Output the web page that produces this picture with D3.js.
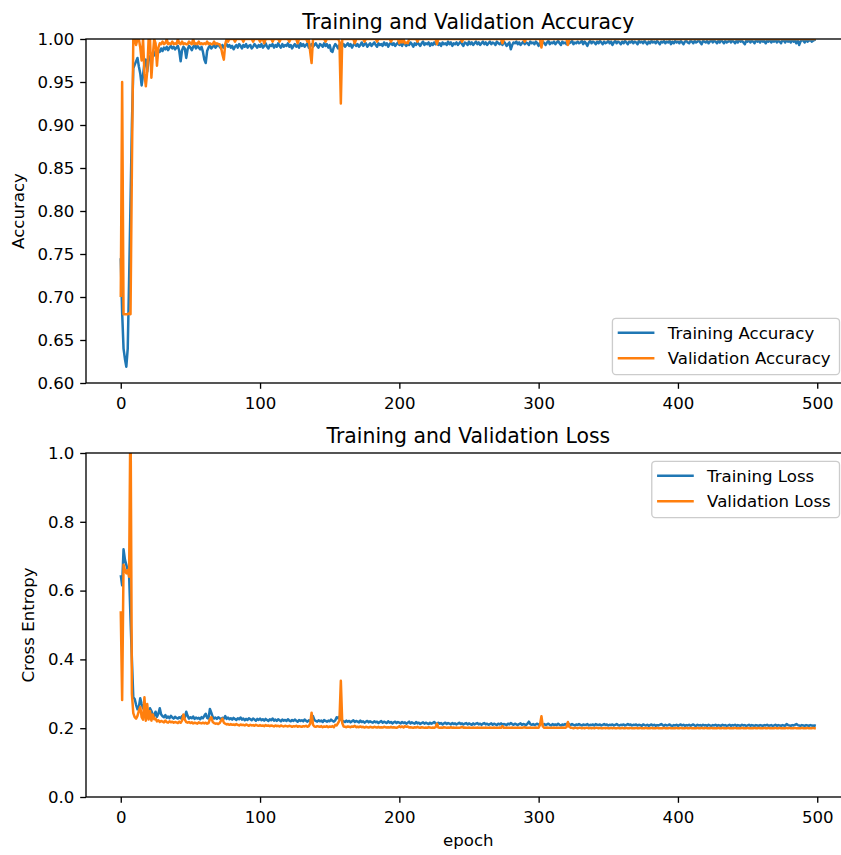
<!DOCTYPE html>
<html><head><meta charset="utf-8">
<script src="https://cdn.jsdelivr.net/npm/d3@7"></script>
<style>body{margin:0;background:#fff}svg text{font-family:"DejaVu Sans",sans-serif}</style>
</head><body><svg id="c" width="841" height="855"></svg>
<script>
// Training accuracy per epoch (0..499)
const trainAcc = [
.745,.682,.640,.628,.619,.640,.720,.810,.900,.966,.970,.974,.978,.968,.960,.946,.958,.972,.976,.962,
.975,.980,.978,.984,.981,.986,.983,.987,.985,.989,.986,.990,.988,.991,.987,.990,.992,.989,.991,.988,
.990,.992,.986,.974,.987,.991,.989,.978,.988,.992,.990,.987,.991,.993,.989,.992,.990,.988,.991,.985,
.976,.972,.986,.990,.992,.989,.991,.993,.990,.992,.994,.991,.989,.993,.990,.992,.994,.991,.993,.990,
.992,.988,.991,.993,.990,.994,.992,.989,.993,.991,.994,.990,.992,.993,.989,.991,.994,.992,.990,.993,
.991,.994,.990,.992,.995,.991,.989,.993,.992,.994,.990,.993,.991,.995,.992,.990,.994,.991,.993,.992,
.995,.991,.993,.989,.992,.994,.991,.993,.990,.995,.992,.994,.991,.993,.995,.990,.992,.994,.991,.993,
.995,.992,.990,.994,.993,.991,.995,.992,.994,.990,.993,.986,.985,.991,.994,.992,.989,.993,.995,.992,
.994,.991,.993,.995,.992,.994,.990,.993,.995,.992,.994,.991,.993,.996,.992,.994,.995,.991,.993,.995,
.992,.994,.996,.993,.991,.995,.993,.994,.992,.996,.993,.995,.991,.994,.996,.993,.995,.992,.994,.996,
.993,.995,.992,.996,.994,.992,.995,.993,.996,.994,.991,.995,.993,.996,.994,.992,.995,.997,.993,.995,
.994,.996,.992,.995,.993,.996,.994,.997,.993,.995,.992,.996,.994,.995,.993,.997,.994,.996,.992,.995,
.994,.996,.993,.995,.997,.994,.992,.996,.995,.993,.997,.994,.996,.993,.995,.997,.994,.996,.993,.995,
.997,.994,.996,.993,.995,.997,.994,.996,.995,.993,.997,.995,.994,.996,.993,.997,.995,.992,.994,.996,
.988,.993,.996,.995,.997,.994,.996,.993,.995,.997,.994,.996,.995,.993,.997,.995,.996,.994,.997,.995,
.992,.996,.994,.997,.995,.993,.996,.998,.994,.996,.995,.997,.994,.996,.998,.995,.993,.997,.995,.996,
.994,.997,.995,.996,.998,.994,.996,.995,.997,.995,.996,.998,.994,.997,.995,.992,.996,.998,.995,.997,
.996,.994,.997,.995,.998,.996,.994,.997,.995,.996,.998,.995,.997,.993,.996,.998,.995,.997,.996,.994,
.997,.995,.998,.996,.994,.997,.996,.998,.995,.997,.996,.994,.998,.996,.997,.995,.998,.996,.994,.997,
.995,.998,.996,.997,.995,.998,.996,.994,.997,.996,.998,.995,.997,.996,.998,.994,.997,.995,.998,.996,
.997,.995,.998,.996,.994,.997,.998,.996,.995,.998,.997,.995,.998,.996,.997,.999,.996,.994,.998,.997,
.996,.998,.995,.997,.999,.996,.998,.997,.995,.998,.996,.999,.997,.995,.998,.996,.997,.999,.996,.998,
.997,.995,.998,.996,.999,.997,.998,.996,.994,.998,.997,.999,.996,.998,.997,.995,.999,.997,.998,.996,
.999,.997,.998,.995,.998,.997,.999,.996,.998,.997,.999,.996,.998,.997,.995,.999,.998,.996,.999,.997,
.998,.996,.999,.997,.998,.995,.999,.993,.997,.999,.998,.996,.999,.997,.998,.999,.997,.998,.999,.999
];
// Validation accuracy per epoch
const valAcc = [
.700,.950,.680,.680,.680,.680,.681,.680,.850,1,1,.993,1,1,.990,.975,1,.960,.945,.962,
1,1,.955,.980,1,.995,.969,.990,.995,.994,.997,.994,.995,1,.994,.995,.994,.997,.994,.995,
.994,1,.995,.994,.997,.994,.995,.994,.994,.997,.995,.994,1,.994,.995,.994,.997,.994,.995,.994,
.995,.994,.997,.994,.995,.994,.994,.997,.994,.995,.994,.994,.990,.982,.976,.994,1,.997,1,1,
1,1,.997,1,1,1,1,1,.997,1,1,1,1,1,1,.997,1,1,1,1,
.997,1,1,.995,1,1,1,1,1,.997,1,1,1,1,.997,1,1,1,1,1,
1,.997,1,1,1,1,1,.995,1,1,1,1,1,1,.997,1,.985,.972,1,1,
1,1,1,1,1,1,1,.997,1,1,1,1,1,1,1,1,1,.997,.925,1,
1,1,1,1,1,1,1,1,.995,1,1,1,1,1,1,.997,1,1,1,1,
1,1,1,1,.997,1,1,1,1,1,1,1,1,1,.997,1,1,1,1,1,
.995,1,.996,1,.995,.996,.995,1,1,1,1,1,1,.997,1,1,1,1,1,1,
1,1,1,1,1,1,1,.994,1,1,1,1,1,1,1,1,1,1,1,1,
1,1,1,1,1,.997,1,1,1,1,1,1,1,1,1,1,1,1,1,1,
1,1,1,1,1,1,1,1,1,1,1,1,1,1,.995,1,1,1,1,1,
1,1,1,1,1,1,1,1,1,1,.997,1,1,1,1,1,1,1,1,1,
1,1,.990,1,1,1,1,1,1,1,1,1,1,1,1,1,1,1,1,1,
1,.993,1,1,1,1,1,1,1,1,1,1,1,1,1,1,1,1,1,1,
1,1,1,1,1,1,1,1,1,1,1,1,1,1,1,1,1,1,1,1,
1,1,1,1,1,1,1,1,1,1,1,1,1,1,1,1,1,1,1,1,
1,1,1,1,1,1,1,1,1,1,1,1,1,1,1,1,1,1,1,1,
1,1,1,1,1,1,1,1,1,1,1,1,1,1,1,1,1,1,1,1,
1,1,1,1,1,1,1,1,1,1,1,1,1,1,1,1,1,1,1,1,
1,1,1,1,1,1,1,1,1,1,1,1,1,1,1,1,1,1,1,1,
1,1,1,1,1,1,1,1,1,1,1,1,1,1,1,1,1,1,1,1,
1,1,1,1,1,1,1,1,1,1,1,1,1,1,1,1,1,1,1,1
];
// Training loss per epoch
const trainLoss = [
.645,.615,.720,.690,.675,.660,.645,.520,.400,.290,.285,.268,.255,.262,.287,.270,.258,.262,.248,.233,
.245,.258,.250,.240,.236,.248,.233,.242,.258,.240,.235,.232,.238,.230,.234,.229,.236,.231,.228,.233,
.230,.228,.232,.229,.235,.237,.231,.248,.236,.228,.232,.229,.234,.227,.231,.228,.230,.226,.232,.229,
.236,.242,.230,.228,.256,.245,.233,.228,.231,.227,.232,.229,.226,.230,.228,.235,.227,.231,.226,.229,
.225,.230,.227,.224,.229,.226,.231,.225,.228,.223,.227,.224,.229,.226,.223,.228,.225,.222,.227,.224,
.228,.223,.226,.222,.227,.224,.221,.226,.223,.228,.222,.225,.221,.226,.223,.220,.225,.222,.224,.221,
.226,.222,.220,.224,.221,.225,.222,.219,.224,.221,.223,.220,.225,.222,.219,.223,.221,.228,.235,.224,
.221,.219,.223,.220,.222,.218,.224,.221,.219,.222,.220,.225,.221,.219,.223,.232,.229,.234,.226,.222,
.220,.218,.222,.219,.221,.217,.220,.223,.218,.221,.219,.217,.222,.218,.220,.216,.219,.221,.217,.220,
.218,.216,.220,.217,.219,.215,.218,.221,.216,.219,.217,.215,.220,.216,.218,.214,.217,.219,.215,.218,
.216,.214,.218,.215,.217,.213,.216,.219,.214,.217,.215,.213,.218,.214,.216,.212,.215,.217,.213,.216,
.214,.212,.216,.213,.215,.218,.214,.212,.216,.213,.215,.211,.214,.216,.212,.215,.213,.211,.215,.212,
.214,.211,.213,.216,.212,.214,.211,.213,.215,.211,.214,.212,.210,.214,.211,.213,.215,.211,.213,.210,
.213,.215,.211,.213,.210,.212,.214,.210,.213,.211,.209,.213,.211,.214,.210,.212,.211,.209,.213,.211,
.215,.212,.210,.213,.211,.209,.212,.214,.210,.212,.211,.209,.213,.219,.212,.210,.212,.209,.211,.213,
.210,.212,.214,.210,.212,.209,.211,.213,.210,.208,.212,.210,.211,.209,.213,.210,.208,.211,.209,.212,
.210,.215,.211,.209,.212,.210,.208,.211,.209,.212,.210,.208,.211,.209,.210,.212,.208,.210,.209,.211,
.208,.212,.210,.209,.211,.208,.210,.212,.209,.211,.208,.210,.209,.211,.208,.210,.212,.209,.208,.210,
.209,.211,.208,.210,.212,.209,.211,.208,.210,.209,.211,.208,.210,.209,.207,.211,.209,.208,.210,.207,
.209,.211,.208,.210,.207,.209,.208,.210,.212,.209,.207,.210,.208,.209,.211,.208,.207,.209,.208,.210,
.207,.209,.211,.208,.210,.207,.209,.208,.210,.207,.209,.211,.208,.207,.210,.208,.209,.207,.210,.208,
.209,.207,.210,.208,.207,.209,.208,.210,.207,.209,.208,.207,.210,.208,.209,.207,.208,.210,.207,.209,
.208,.210,.207,.209,.208,.207,.210,.208,.209,.207,.208,.210,.207,.209,.208,.207,.209,.208,.207,.209,
.208,.207,.209,.208,.210,.207,.208,.209,.207,.208,.210,.207,.209,.208,.207,.209,.208,.207,.212,.209,
.208,.207,.209,.208,.210,.212,.209,.208,.207,.209,.208,.207,.209,.208,.207,.209,.208,.207,.208,.207
];
// Validation loss per epoch
const valLoss = [
.540,.282,.675,.660,.650,.660,.640,1.150,.300,.244,.232,.228,.236,.250,.262,.232,.225,.290,.222,.270,
.225,.250,.222,.240,.226,.228,.220,.223,.218,.221,.219,.217,.222,.218,.216,.220,.217,.219,.216,.218,
.217,.215,.219,.216,.222,.240,.225,.218,.216,.218,.215,.217,.214,.216,.215,.213,.217,.215,.214,.216,
.214,.216,.213,.215,.226,.232,.218,.215,.213,.214,.212,.215,.222,.228,.216,.213,.211,.212,.210,.212,
.210,.211,.209,.212,.210,.208,.211,.209,.210,.208,.211,.209,.207,.210,.208,.209,.207,.210,.208,.207,
.209,.207,.208,.206,.209,.207,.208,.206,.208,.207,.205,.208,.206,.207,.205,.208,.206,.205,.207,.206,
.205,.207,.206,.204,.206,.205,.207,.204,.206,.205,.204,.206,.205,.207,.204,.206,.213,.245,.210,.205,
.204,.206,.205,.204,.206,.203,.205,.204,.206,.203,.205,.204,.206,.203,.210,.208,.215,.222,.338,.215,
.205,.204,.203,.205,.204,.203,.205,.204,.207,.203,.204,.203,.205,.203,.204,.202,.204,.203,.202,.204,
.203,.202,.204,.203,.202,.204,.202,.203,.202,.204,.203,.202,.203,.202,.204,.202,.203,.202,.201,.203,
.206,.203,.205,.202,.206,.204,.205,.202,.203,.202,.201,.203,.202,.204,.202,.201,.203,.202,.201,.202,
.201,.203,.202,.201,.202,.201,.203,.213,.202,.201,.202,.201,.203,.202,.201,.202,.201,.203,.201,.202,
.201,.202,.201,.201,.202,.204,.201,.202,.201,.201,.202,.201,.201,.202,.201,.201,.202,.201,.201,.202,
.201,.201,.202,.201,.201,.202,.201,.201,.202,.201,.201,.201,.202,.201,.206,.201,.201,.202,.201,.201,
.201,.202,.201,.201,.201,.202,.201,.201,.201,.202,.203,.201,.201,.201,.202,.201,.201,.201,.202,.201,
.201,.210,.235,.205,.201,.201,.202,.201,.201,.201,.201,.202,.201,.201,.201,.201,.201,.202,.201,.201,
.203,.218,.204,.201,.201,.200,.201,.201,.200,.201,.201,.200,.201,.200,.201,.201,.200,.201,.200,.201,
.200,.201,.201,.200,.201,.200,.200,.201,.200,.201,.200,.200,.201,.200,.201,.200,.200,.201,.200,.200,
.201,.200,.200,.201,.200,.200,.201,.200,.200,.200,.201,.200,.200,.201,.200,.200,.200,.201,.200,.200,
.200,.201,.200,.200,.200,.201,.200,.200,.200,.200,.201,.200,.200,.200,.201,.200,.200,.200,.200,.201,
.200,.200,.201,.200,.200,.200,.201,.200,.200,.201,.200,.200,.200,.200,.201,.200,.200,.201,.200,.200,
.201,.200,.200,.200,.201,.200,.200,.200,.200,.201,.200,.200,.201,.200,.200,.200,.201,.200,.200,.200,
.200,.201,.200,.200,.200,.200,.201,.200,.200,.200,.201,.200,.200,.200,.200,.201,.200,.200,.201,.200,
.200,.200,.201,.200,.200,.201,.200,.200,.200,.200,.201,.200,.200,.201,.200,.200,.200,.200,.201,.200,
.201,.200,.200,.200,.201,.200,.200,.200,.200,.201,.200,.200,.200,.201,.200,.200,.200,.201,.200,.200
];
const xTicks = [0, 100, 200, 300, 400, 500];
const accTicks = [0.60, 0.65, 0.70, 0.75, 0.80, 0.85, 0.90, 0.95, 1.00];
const lossTicks = [0.0, 0.2, 0.4, 0.6, 0.8, 1.0];
const accLabels = ["Training Accuracy", "Validation Accuracy"];
const lossLabels = ["Training Loss", "Validation Loss"];
const colors = ["#1f77b4", "#ff7f0e"];

[trainAcc, valAcc, trainLoss, valLoss].forEach((a, i) => {
  if (a.length !== 500) throw new Error("series " + i + " has length " + a.length);
});

const W = 841, H = 855, FS = 16.6;
const svg = d3.select("#c");
svg.append("rect").attr("width", W).attr("height", H).attr("fill", "#fff");

const epochs = d3.range(trainAcc.length);
const plotL = 86, plotR = 850.6, midX = (plotL + plotR) / 2;
const x = d3.scaleLinear().domain([-24.95, 523.95]).range([plotL, plotR]);

function drawPanel(cfg) {
  const y = d3.scaleLinear().domain(cfg.yDomain).range([cfg.bottom, cfg.top]);
  const g = svg.append("g");
  const id = "clip" + cfg.id;
  svg.append("clipPath").attr("id", id).append("rect")
    .attr("x", plotL).attr("y", cfg.top).attr("width", plotR - plotL).attr("height", cfg.bottom - cfg.top);
  const line = d3.line().x((d, i) => x(epochs[i])).y(d => y(d));
  const lg = g.append("g").attr("clip-path", `url(#${id})`);
  cfg.series.forEach((s, k) => {
    lg.append("path").datum(s).attr("d", line).attr("fill", "none")
      .attr("stroke", colors[k]).attr("stroke-width", 2.5).attr("stroke-linejoin", "round");
  });
  const xa = d3.axisBottom(x).tickValues(xTicks).tickSize(5.8).tickPadding(5.8).tickFormat(d3.format("d"));
  const xg = g.append("g").attr("transform", `translate(0,${cfg.bottom})`).call(xa);
  const ya = d3.axisLeft(y).tickValues(cfg.yTicks).tickSize(5.8).tickPadding(5.8).tickFormat(d3.format(cfg.fmt));
  const yg = g.append("g").attr("transform", `translate(${plotL},0)`).call(ya);
  [xg, yg].forEach(a => {
    a.attr("font-size", FS).attr("font-family", "DejaVu Sans");
    a.select(".domain").remove();
    a.selectAll(".tick line").attr("stroke", "#000").attr("stroke-width", 1.33);
    a.selectAll(".tick text").attr("fill", "#000");
  });
  xg.selectAll(".tick text").attr("dy", "0.86em");
  g.append("rect").attr("x", plotL).attr("y", cfg.top).attr("width", plotR - plotL)
    .attr("height", cfg.bottom - cfg.top).attr("fill", "none").attr("stroke", "#000").attr("stroke-width", 1.33);
  g.append("text").attr("x", midX).attr("y", cfg.top - 10).attr("text-anchor", "middle")
    .attr("font-size", 20.4).attr("fill", "#000").text(cfg.title);
  g.append("text").attr("transform", `translate(${cfg.ylabelX},${(cfg.top + cfg.bottom) / 2}) rotate(-90)`)
    .attr("text-anchor", "middle").attr("font-size", FS).attr("fill", "#000").text(cfg.ylabel);
  // legend
  const right = 839.5, boxH = 56.3;
  const boxTop = cfg.legendTop;
  const leg = g.append("g");
  const box = leg.append("rect");
  let maxW = 0;
  cfg.labels.forEach((lab, k) => {
    const cy = boxTop + 14.4 + k * 25.6;
    const t = leg.append("text").attr("y", cy).attr("dy", "0.36em").attr("font-size", FS).attr("fill", "#000").text(lab);
    maxW = Math.max(maxW, t.node().getComputedTextLength());
  });
  const boxW = 5.3 + 36.7 + 13.3 + maxW + 8.8;
  const boxL = right - boxW;
  box.attr("x", boxL).attr("y", boxTop).attr("width", boxW).attr("height", boxH).attr("rx", 3.5)
    .attr("fill", "rgba(255,255,255,0.8)").attr("stroke", "#cccccc").attr("stroke-width", 1.33);
  leg.selectAll("text").attr("x", boxL + 5.3 + 36.7 + 13.3);
  cfg.labels.forEach((lab, k) => {
    const cy = boxTop + 14.4 + k * 25.6;
    leg.append("line").attr("x1", boxL + 5.3).attr("x2", boxL + 5.3 + 36.7).attr("y1", cy).attr("y2", cy)
      .attr("stroke", colors[k]).attr("stroke-width", 2.5);
  });
}

drawPanel({id: "a", top: 39, bottom: 383, yDomain: [0.6, 1.0], yTicks: accTicks, fmt: ".2f",
  series: [trainAcc, valAcc], title: "Training and Validation Accuracy", ylabel: "Accuracy", ylabelX: 24,
  labels: accLabels, legendTop: 318.3});
drawPanel({id: "l", top: 453, bottom: 797, yDomain: [0, 1.0], yTicks: lossTicks, fmt: ".1f",
  series: [trainLoss, valLoss], title: "Training and Validation Loss", ylabel: "Cross Entropy", ylabelX: 34,
  labels: lossLabels, legendTop: 461.3});
svg.append("text").attr("x", midX).attr("y", 846).attr("text-anchor", "middle")
  .attr("font-size", FS).attr("fill", "#000").text("epoch");
</script>
</body></html>
